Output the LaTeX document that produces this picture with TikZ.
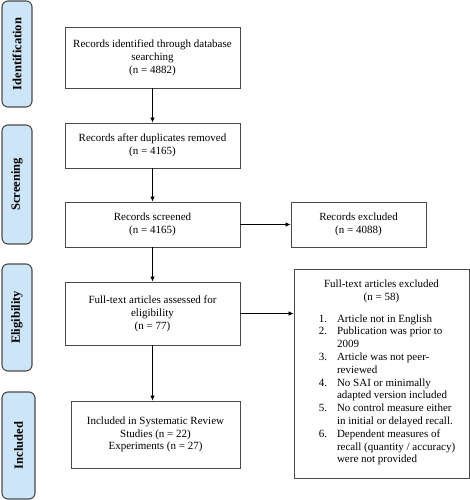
\documentclass[tikz,border=0pt]{standalone}
\usepackage{fontspec}
\setmainfont{Liberation Serif}
\usetikzlibrary{arrows.meta}
\definecolor{phaseblue}{HTML}{CDE5F8}
\definecolor{edgegray}{HTML}{4A4A4A}

\begin{document}
\begin{tikzpicture}[x=1pt, y=-1pt,
    font=\fontsize{11}{12.8}\selectfont,
    box/.style = {shape=rectangle, draw=edgegray, line width=0.9pt,
      align=center, inner sep=3pt},
    phase/.style = {shape=rectangle, rounded corners=6pt, draw=edgegray,
      line width=1.1pt, fill=phaseblue, rotate=90, minimum height=30pt,
      font=\fontsize{12.5}{14}\selectfont\bfseries},
    flow/.style = {-{Latex[length=5pt,width=4.5pt]}, line width=0.8pt}]
  \useasboundingbox (0,0) rectangle (470,500);

  % phases
  \node[phase, minimum width=106pt] (ident) at (17,54) {Identification};
  \node[phase, minimum width=119pt] (screen) at (17,184.5) {Screening};
  \node[phase, minimum width=107pt] (eligib) at (17,317.5) {Eligibility};
  \node[phase, minimum width=107pt, minimum height=33pt] (inclu) at (18.5,445.5) {Included};

  % boxes
  \node[box, minimum width=175pt, minimum height=61pt] (found) at (152.5,57.5)
    {Records identified through database\\searching\\(n = 4882)};
  \node[box, minimum width=175pt, minimum height=45pt] (dup) at (152.5,145.5)
    {Records after duplicates removed\\(n = 4165)};
  \node[box, minimum width=175pt, minimum height=45pt] (scr) at (152.5,224.5)
    {Records screened\\(n = 4165)};
  \node[box, minimum width=135pt, minimum height=45pt] (excl) at (358.5,224.5)
    {Records excluded\\(n = 4088)};
  \node[box, minimum width=175pt, minimum height=63pt] (elig) at (152.5,313.5)
    {Full-text articles assessed for\\eligibility\\(n = 77)};
  \node[box, minimum width=169pt, minimum height=67pt] (incl) at (155.5,434.5)
    {Included in Systematic Review\\Studies (n = 22)\\Experiments (n = 27)};
  \node[box, minimum width=175pt, minimum height=209pt] (ftex) at (381.5,373.5)
    {Full-text articles excluded\\(n = 58)\\[9pt]
     \hspace*{11pt}\begin{tabular}{@{}r@{\hspace{10pt}}l@{}}
       1. & Article not in English\\
       2. & Publication was prior to\\
          & 2009\\
       3. & Article was not peer-\\
          & reviewed\\
       4. & No SAI or minimally\\
          & adapted version included\\
       5. & No control measure either\\
          & in initial or delayed recall.\\
       6. & Dependent measures of\\
          & recall (quantity / accuracy)\\
          & were not provided
     \end{tabular}};

  % connectors
  \draw[flow] (found) -- (dup);
  \draw[flow] (dup) -- (scr);
  \draw[flow] (scr) -- (excl);
  \draw[flow] (scr) -- (elig);
  \draw[flow] (elig.south) -- (elig.south |- incl.north);
  \draw[flow] (elig.east) -- (elig.east -| ftex.west);
\end{tikzpicture}
\end{document}
